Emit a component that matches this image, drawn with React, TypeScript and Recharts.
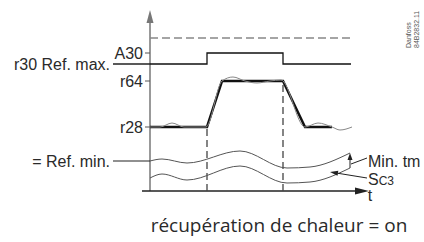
import { ComposedChart, Line, XAxis, YAxis, ReferenceLine } from 'recharts'

// one arbitrary unit for both time (t) and level
const alarmT = [0, 57, 133, 201]
const alarmLevel = [127, 138, 127, 127]

const setpointT = [0, 57, 72, 133, 155, 182]
const setpointLevel = [64, 64, 110, 110, 64, 64]

const tempT = [0, 10, 22, 34, 56, 72, 83, 95, 107, 120, 131, 155, 168, 182, 190, 202]
const tempLevel = [64, 64, 68, 64, 64, 110, 114, 110, 108, 110, 111, 64, 68, 64, 61, 64]

const bandT = [0, 12, 37, 90, 137, 160, 200]
const refMinBand = [30, 32, 28, 40, 23, 24, 38]
const sc3Band = [13, 17, 11, 25, 8, 9, 23]

const levelTicks = [64, 110, 138]
const levelLabels: Record<number, string> = { 64: 'r28', 110: 'r64', 138: 'A30' }
const refMax = 153
const r30 = 127
const refMin = 30

const pts = (xs: number[], ys: number[]) => xs.map((x, i) => ({ x, y: ys[i] }))

const arrow = (len: number, half: number) => (p: any) => {
  const { x1, y1, x2, y2, stroke, strokeWidth } = p
  const a = Math.atan2(y2 - y1, x2 - x1)
  const bx = x2 - len * Math.cos(a)
  const by = y2 - len * Math.sin(a)
  const px = -Math.sin(a) * half
  const py = Math.cos(a) * half
  return (
    <g>
      <line x1={x1} y1={y1} x2={bx} y2={by} stroke={stroke} strokeWidth={strokeWidth} />
      <polygon points={`${x2},${y2} ${bx + px},${by + py} ${bx - px},${by - py}`} fill={stroke} />
    </g>
  )
}

const txt = { fontSize: 16, fill: '#2a2a2a' }

export default function App() {
  return (
    <div style={{ position: 'absolute', left: 0, top: 0, width: 424, height: 242, background: '#fff', fontFamily: '"Liberation Sans", Arial, sans-serif' }}>
      <ComposedChart width={424} height={242} margin={{ top: 11, right: 55, bottom: 51, left: 0 }}>
        <XAxis type="number" dataKey="x" domain={[0, 219]} allowDataOverflow hide />
        <YAxis type="number" domain={[0, 180]} allowDataOverflow ticks={levelTicks} width={150}
          axisLine={false} tickLine={{ stroke: '#555' }} tickSize={5} tickMargin={2}
          tick={txt} tickFormatter={v => levelLabels[v] ?? ''} />

        {/* axes with arrows */}
        <ReferenceLine segment={[{ x: 0, y: 0 }, { x: 0, y: 181 }]} ifOverflow="visible" stroke="#777" strokeWidth={1.5} shape={arrow(13, 3.5)} />
        <ReferenceLine segment={[{ x: -8, y: 0 }, { x: 219, y: 0 }]} ifOverflow="visible" stroke="#222" strokeWidth={1.5} shape={arrow(14, 3.5)}
          label={(p: any) => {
            const vb = p.viewBox
            return <text x={vb.x + vb.width + 1} y={vb.y + 10} textAnchor="middle" {...txt}>t</text>
          }} />

        {/* limits */}
        <ReferenceLine segment={[{ x: 0, y: refMax }, { x: 201, y: refMax }]} ifOverflow="visible" stroke="#888" strokeWidth={1.5} strokeDasharray="8 4" />
        <ReferenceLine segment={[{ x: -37, y: r30 }, { x: 0, y: r30 }]} ifOverflow="visible" stroke="#222" strokeWidth={1.3}
          label={{ value: 'r30 Ref. max.', position: 'left', offset: 3, ...txt }} />
        <ReferenceLine segment={[{ x: -37, y: refMin }, { x: 0, y: refMin }]} ifOverflow="visible" stroke="#222" strokeWidth={1.2}
          label={{ value: '= Ref. min.', position: 'left', offset: 3, ...txt }} />

        {/* switch-on / switch-off markers */}
        <ReferenceLine segment={[{ x: 57, y: 0 }, { x: 57, y: 64 }]} ifOverflow="visible" stroke="#444" strokeWidth={1.3} strokeDasharray="7 4" />
        <ReferenceLine segment={[{ x: 133, y: 0 }, { x: 133, y: 110 }]} ifOverflow="visible" stroke="#444" strokeWidth={1.3} strokeDasharray="7 4" />

        <Line data={pts(alarmT, alarmLevel)} dataKey="y" type="stepAfter" stroke="#111" strokeWidth={1.3} dot={false} isAnimationActive={false} />
        <Line data={pts(bandT, refMinBand)} dataKey="y" type="monotone" stroke="#555" strokeWidth={1} dot={false} isAnimationActive={false} />
        <Line data={pts(bandT, sc3Band)} dataKey="y" type="monotone" stroke="#555" strokeWidth={1} dot={false} isAnimationActive={false} />
        <Line data={pts(setpointT, setpointLevel)} dataKey="y" type="linear" stroke="#111" strokeWidth={2.5} dot={false} isAnimationActive={false} />
        <Line data={pts(tempT, tempLevel)} dataKey="y" type="monotone" stroke="#888" strokeWidth={1} dot={false} isAnimationActive={false} />

        {/* Min. tm and Sc3 annotations */}
        <ReferenceLine segment={[{ x: 200, y: 23 }, { x: 200, y: 38 }]} ifOverflow="visible" stroke="#222" strokeWidth={1} shape={arrow(7, 2.5)} />
        <ReferenceLine segment={[{ x: 201, y: 27 }, { x: 217, y: 33 }]} ifOverflow="visible" stroke="#222" strokeWidth={1}
          label={{ value: 'Min. tm', position: 'right', offset: 1, ...txt }} />
        <ReferenceLine segment={[{ x: 217, y: 13 }, { x: 180, y: 19 }]} ifOverflow="visible" stroke="#222" strokeWidth={1} shape={arrow(8, 2.5)}
          label={(p: any) => {
            const vb = p.viewBox
            return (
              <text x={vb.x + vb.width + 1} y={vb.y + vb.height + 7} {...txt}>
                S<tspan fontSize={12}>C3</tspan>
              </text>
            )
          }} />
      </ComposedChart>

      <svg width={424} height={242} style={{ position: 'absolute', left: 0, top: 0, pointerEvents: 'none' }}>
        <text transform="translate(411,48) rotate(-90)" fontSize={7} fill="#555">Danfoss</text>
        <text transform="translate(419,48) rotate(-90)" fontSize={7} fill="#555">84B2832.11</text>
        <text x={279} y={232} textAnchor="middle" fontSize={19} fill="#2a2a2a" fontFamily='"Open Sans", sans-serif'>récupération de chaleur = on</text>
      </svg>
    </div>
  )
}
